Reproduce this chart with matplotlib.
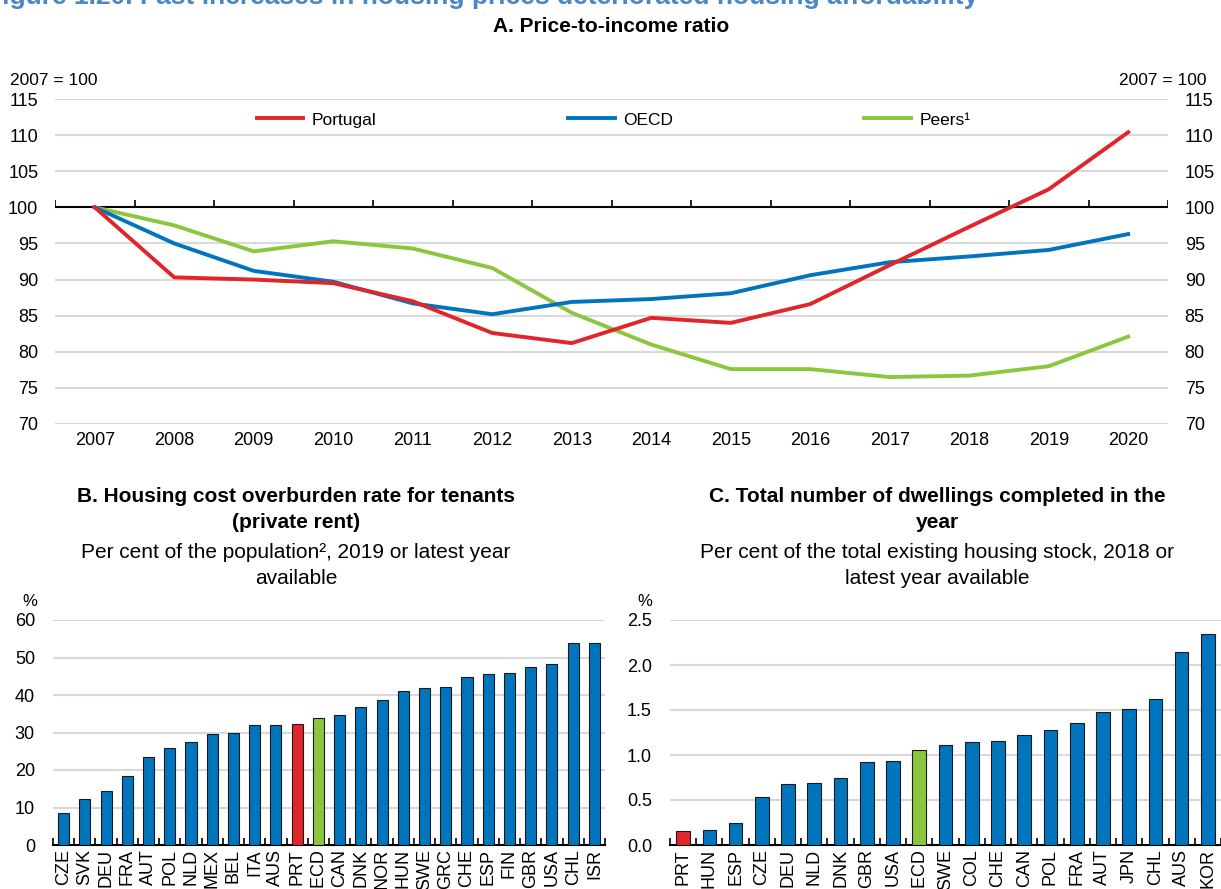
import matplotlib
matplotlib.use("Agg")
import matplotlib.pyplot as plt
import numpy as np

plt.rcParams['font.family'] = ['Liberation Sans', 'DejaVu Sans']
plt.rcParams['font.size'] = 13

# A. Price-to-income ratio, 2007 = 100
years = ['2007', '2008', '2009', '2010', '2011', '2012', '2013',
         '2014', '2015', '2016', '2017', '2018', '2019', '2020']
portugal = [100, 90.3, 90.0, 89.5, 87.0, 82.6, 81.2, 84.7, 84.0, 86.6, 92.0, 97.3, 102.5, 110.4]
oecd = [100, 95.0, 91.2, 89.7, 86.7, 85.2, 86.9, 87.3, 88.1, 90.6, 92.4, 93.2, 94.1, 96.3]
peers = [100, 97.5, 93.9, 95.3, 94.3, 91.6, 85.4, 81.0, 77.6, 77.6, 76.5, 76.7, 78.0, 82.1]

# B. Housing cost overburden rate for tenants
b_countries = ['CZE', 'SVK', 'DEU', 'FRA', 'AUT', 'POL', 'NLD', 'MEX', 'BEL', 'ITA', 'AUS',
               'PRT', 'OECD', 'CAN', 'DNK', 'NOR', 'HUN', 'SWE', 'GRC', 'CHE', 'ESP', 'FIN',
               'GBR', 'USA', 'CHL', 'ISR']
b_values = [8.5, 12.4, 14.3, 18.5, 23.6, 26.0, 27.6, 29.5, 29.9, 32.0, 32.1,
            32.4, 34.0, 34.6, 36.9, 38.8, 41.0, 41.8, 42.2, 44.7, 45.7, 46.0,
            47.4, 48.3, 53.8, 54.0]

# C. Dwellings completed, % of housing stock
c_countries = ['PRT', 'HUN', 'ESP', 'CZE', 'DEU', 'NLD', 'DNK', 'GBR', 'USA', 'OECD', 'SWE',
               'COL', 'CHE', 'CAN', 'POL', 'FRA', 'AUT', 'JPN', 'CHL', 'AUS', 'KOR']
c_values = [0.16, 0.17, 0.25, 0.53, 0.68, 0.69, 0.75, 0.92, 0.93, 1.06, 1.11,
            1.15, 1.16, 1.22, 1.28, 1.36, 1.48, 1.51, 1.62, 2.15, 2.35]

RED = '#e0252b'
BLUE = '#0074bd'
GREEN = '#8cc63f'
GRID = '#d9d9d9'

W, H = 1221, 889
fig = plt.figure(figsize=(W / 100, H / 100), dpi=100)


def px(left, top, right, bottom):
    return [left / W, 1 - bottom / H, (right - left) / W, (bottom - top) / H]


fig.text(978 / W, 1 - 4 / H,
         'Figure 1.20. Fast increases in housing prices deteriorated housing affordability',
         fontsize=19, fontweight='bold', color='#4a86c8', ha='right', va='baseline')

# ---- panel A ----
ax = fig.add_axes(px(55, 99, 1168, 424))
x = np.arange(len(years))
ax.plot(x, portugal, color=RED, lw=2.8, label='Portugal', zorder=4)
ax.plot(x, oecd, color=BLUE, lw=2.8, label='OECD', zorder=3)
ax.plot(x, peers, color=GREEN, lw=2.8, label='Peers¹', zorder=2)
ax.set_xlim(-0.5, len(years) - 0.5)
ax.set_ylim(70, 115)
ax.set_yticks(range(70, 116, 5))
for v in range(70, 116, 5):
    if v != 100:
        ax.axhline(v, color=GRID, lw=1.5, zorder=0)
ax.axhline(100, color='black', lw=1.5, zorder=1)
# category separators sitting on the 100 line
ax.vlines(np.arange(-0.5, len(years), 1), 100, 101.0, color='black', lw=1.2, zorder=1)
for s in ax.spines.values():
    s.set_visible(False)
ax.set_xticks(x)
ax.set_xticklabels(years)
ax.tick_params(axis='x', length=0, pad=6)
ax.tick_params(axis='y', length=0, pad=12, labelleft=True, labelright=True)
ax.text(-0.04, 1.035, '2007 = 100', transform=ax.transAxes, ha='left', va='bottom', fontsize=12.5)
ax.text(1.035, 1.035, '2007 = 100', transform=ax.transAxes, ha='right', va='bottom', fontsize=12.5)
ax.legend(loc='upper center', bbox_to_anchor=(0.502, 1.007), ncol=3, frameon=False,
          handlelength=2.7, handletextpad=0.5, columnspacing=11.0, fontsize=12.5)
fig.text(611 / W, 1 - 27 / H, 'A. Price-to-income ratio', ha='center', va='center',
         fontsize=15, fontweight='bold')


def bar_panel(rect, cats, vals, top, step, fmt, cx, title, sub, pct_x):
    a = fig.add_axes(rect)
    xs = np.arange(len(cats))
    cols = [RED if c == 'PRT' else GREEN if c == 'OECD' else BLUE for c in cats]
    a.bar(xs, vals, width=0.52, color=cols, edgecolor='#1a1a1a', linewidth=0.8, zorder=3)
    a.set_xlim(-0.5, len(cats) - 0.5)
    a.set_ylim(0, top)
    ticks = np.arange(0, top + step / 2, step)
    a.set_yticks(ticks)
    a.set_yticklabels([fmt.format(t) for t in ticks])
    for t in ticks[1:]:
        a.axhline(t, color=GRID, lw=1.5, zorder=0)
    for k in ['left', 'right', 'top']:
        a.spines[k].set_visible(False)
    a.spines['bottom'].set_color('black')
    a.spines['bottom'].set_linewidth(1.5)
    a.set_xticks(xs)
    a.set_xticklabels(cats, rotation=90, fontsize=13)
    a.set_xticks(np.arange(-0.5, len(cats), 1), minor=True)
    a.tick_params(axis='x', which='major', length=0, pad=3)
    a.tick_params(axis='x', which='minor', direction='in', length=5, width=1.2)
    a.tick_params(axis='y', length=0, pad=13)
    fig.text(cx / W, 1 - 497 / H, title[0], ha='center', va='center', fontsize=15, fontweight='bold')
    fig.text(cx / W, 1 - 523 / H, title[1], ha='center', va='center', fontsize=15, fontweight='bold')
    fig.text(cx / W, 1 - 552 / H, sub[0], ha='center', va='center', fontsize=15)
    fig.text(cx / W, 1 - 578 / H, sub[1], ha='center', va='center', fontsize=15)
    fig.text(pct_x / W, 1 - 601 / H, '%', ha='center', va='center', fontsize=12)
    return a


bar_panel(px(53, 620, 605, 845), b_countries, b_values, 60, 10, '{:.0f}', 296,
          ['B. Housing cost overburden rate for tenants', '(private rent)'],
          ['Per cent of the population², 2019 or latest year', 'available'], 30)
bar_panel(px(670, 620, 1221, 845), c_countries, c_values, 2.5, 0.5, '{:.1f}', 937,
          ['C. Total number of dwellings completed in the', 'year'],
          ['Per cent of the total existing housing stock, 2018 or', 'latest year available'], 645)

fig.savefig('out.png', dpi=100)
